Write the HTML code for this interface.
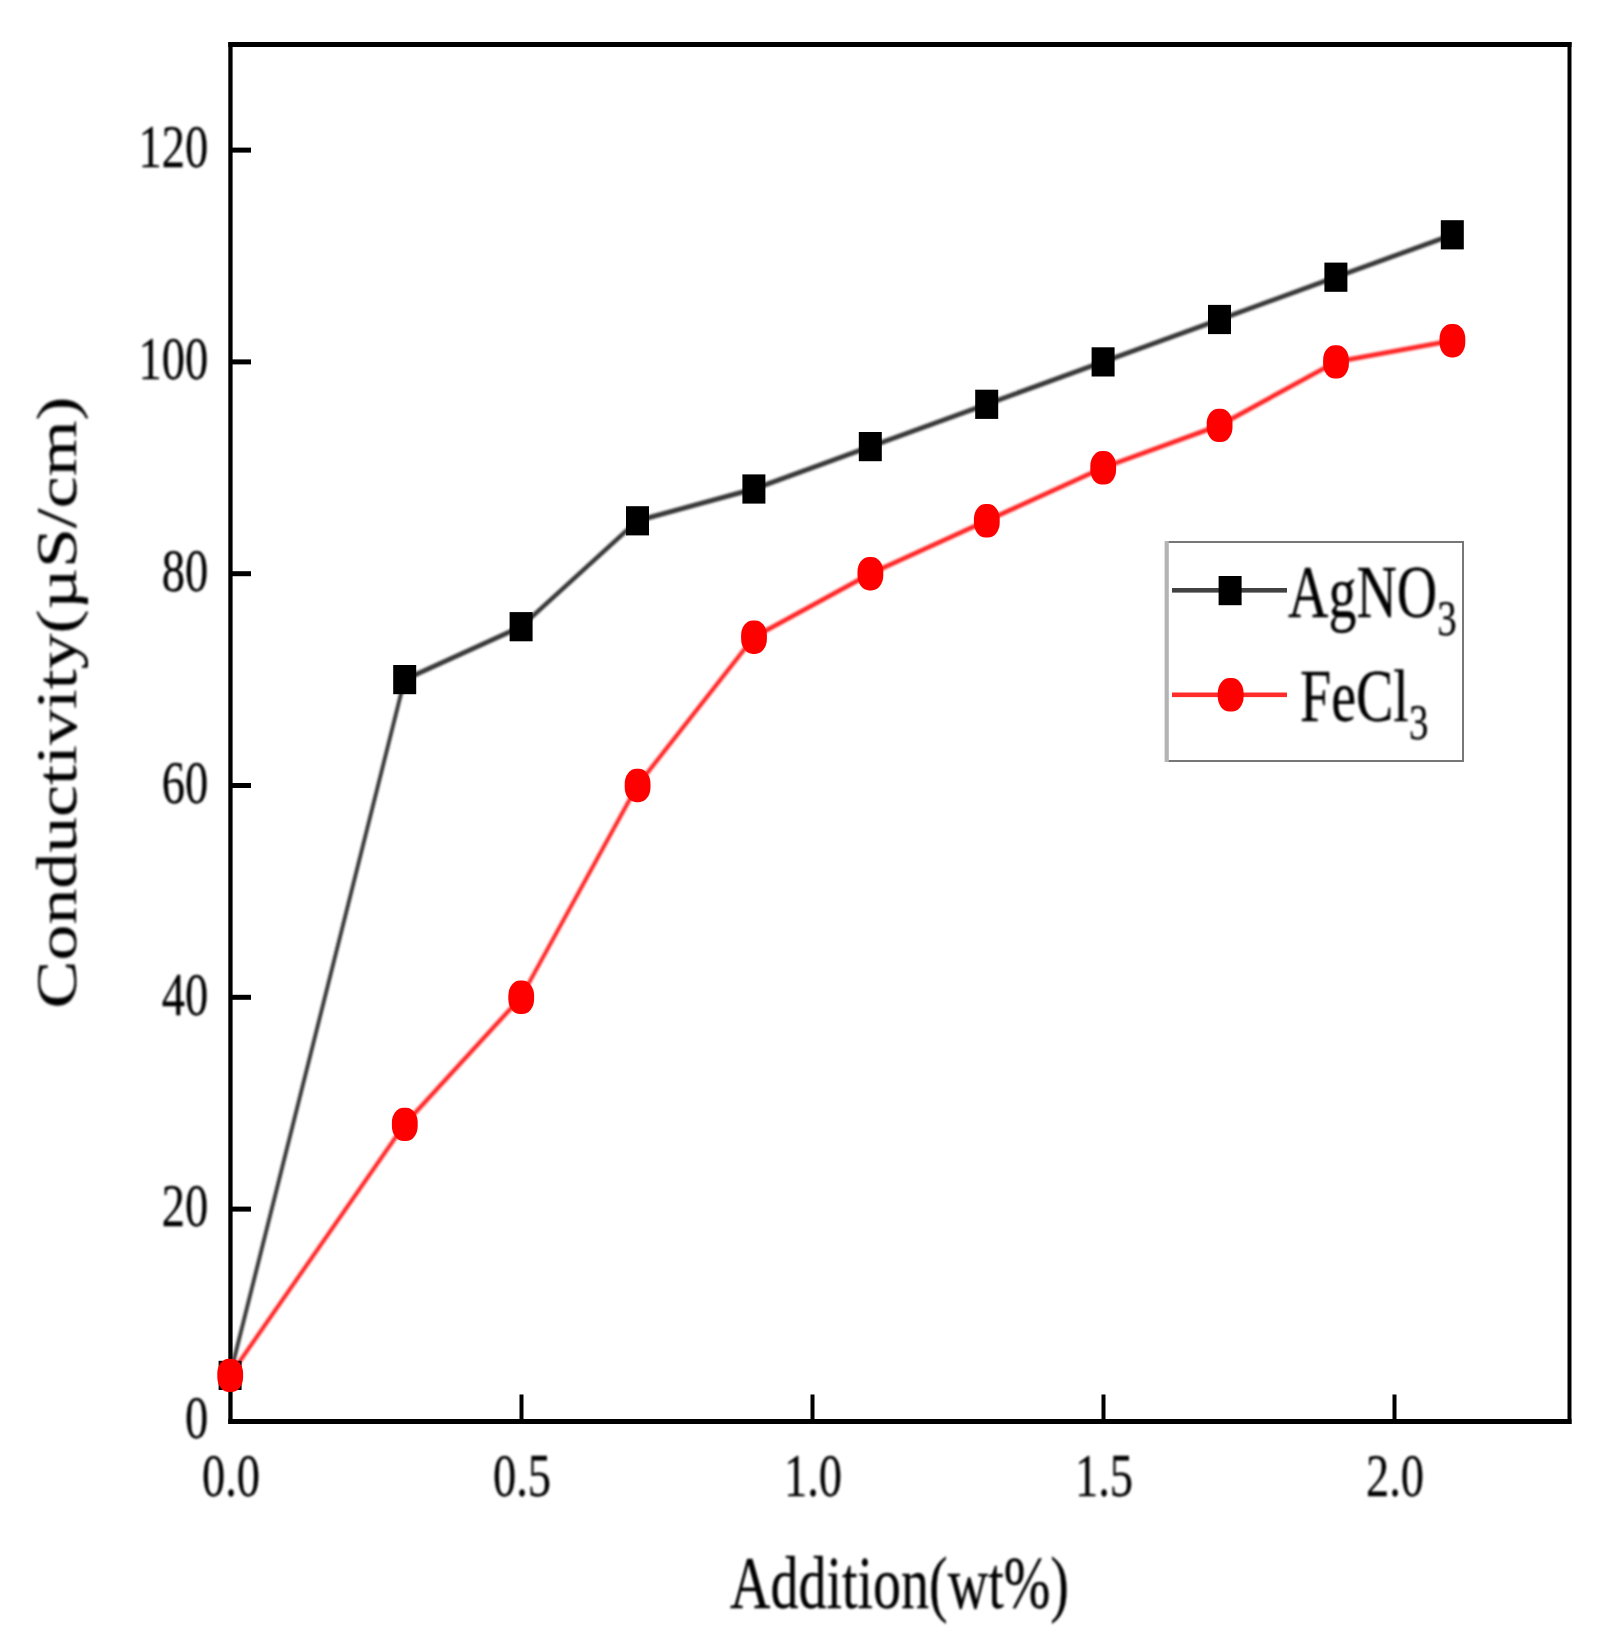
<!DOCTYPE html>
<html lang="en">
<head>
<meta charset="utf-8">
<title>Conductivity vs Addition</title>
<style>
html,body{margin:0;padding:0;background:#fff;}
body{width:1607px;height:1646px;overflow:hidden;}
svg{display:block;}
text{font-family:"Liberation Serif","Times New Roman",serif;fill:#000;stroke:#000;stroke-width:0.2px;}
</style>
</head>
<body>
<svg width="1607" height="1646" viewBox="0 0 1607 1646">
<rect x="0" y="0" width="1607" height="1646" fill="#ffffff"/>
<defs><filter id="soft" x="-5%" y="-5%" width="110%" height="110%"><feGaussianBlur stdDeviation="0.8"/></filter><filter id="soft2" x="-5%" y="-5%" width="110%" height="110%"><feGaussianBlur stdDeviation="0.55"/></filter></defs>
<g filter="url(#soft)">
<polyline transform="scale(1,1.3)" fill="none" stroke="#383838" stroke-width="3.8" stroke-linejoin="round" points="230.0,1057.97 404.6,522.77 521.0,482.04 637.4,400.58 753.8,376.14 870.2,343.55 986.6,310.97 1103.0,278.38 1219.4,245.80 1335.8,213.22 1452.2,180.63"/>
<polyline transform="scale(1,1.3)" fill="none" stroke="#ff2828" stroke-width="3.7" stroke-linejoin="round" points="230.0,1057.97 404.6,864.91 521.0,767.15 637.4,604.23 753.8,490.18 870.2,441.31 986.6,400.58 1103.0,359.85 1219.4,327.26 1335.8,278.38 1452.2,262.09"/>
</g>
<g fill="#000">
<rect x="228.3" y="42" width="4.3" height="1382"/>
<rect x="1567.5" y="42" width="4" height="1382"/>
<rect x="228.3" y="42" width="1343.2" height="5"/>
<rect x="228.3" y="1419" width="1343.2" height="5"/>
<rect x="230" y="1206.6" width="21" height="5"/>
<rect x="230" y="994.8" width="21" height="5"/>
<rect x="230" y="783.0" width="21" height="5"/>
<rect x="230" y="571.2" width="21" height="5"/>
<rect x="230" y="359.4" width="21" height="5"/>
<rect x="230" y="147.6" width="21" height="5"/>
<rect x="519.5" y="1394.5" width="4" height="26"/>
<rect x="810.5" y="1394.5" width="4" height="26"/>
<rect x="1101.5" y="1394.5" width="4" height="26"/>
<rect x="1392.5" y="1394.5" width="4" height="26"/>
</g>
<g fill="#000">
<rect x="218.6" y="1360.8" width="23" height="29.2"/>
<rect x="393.2" y="665.0" width="23" height="29.2"/>
<rect x="509.6" y="612.1" width="23" height="29.2"/>
<rect x="626.0" y="506.2" width="23" height="29.2"/>
<rect x="742.4" y="474.4" width="23" height="29.2"/>
<rect x="858.8" y="432.0" width="23" height="29.2"/>
<rect x="975.2" y="389.7" width="23" height="29.2"/>
<rect x="1091.6" y="347.3" width="23" height="29.2"/>
<rect x="1208.0" y="304.9" width="23" height="29.2"/>
<rect x="1324.4" y="262.6" width="23" height="29.2"/>
<rect x="1440.8" y="220.2" width="23" height="29.2"/>
</g>
<g fill="#ff0000">
<rect x="217.3" y="1358.7" width="25.8" height="33.4" rx="11.6" ry="14.8"/>
<rect x="391.9" y="1107.7" width="25.8" height="33.4" rx="11.6" ry="14.8"/>
<rect x="508.3" y="980.6" width="25.8" height="33.4" rx="11.6" ry="14.8"/>
<rect x="624.7" y="768.8" width="25.8" height="33.4" rx="11.6" ry="14.8"/>
<rect x="741.1" y="620.5" width="25.8" height="33.4" rx="11.6" ry="14.8"/>
<rect x="857.5" y="557.0" width="25.8" height="33.4" rx="11.6" ry="14.8"/>
<rect x="973.9" y="504.1" width="25.8" height="33.4" rx="11.6" ry="14.8"/>
<rect x="1090.3" y="451.1" width="25.8" height="33.4" rx="11.6" ry="14.8"/>
<rect x="1206.7" y="408.7" width="25.8" height="33.4" rx="11.6" ry="14.8"/>
<rect x="1323.1" y="345.2" width="25.8" height="33.4" rx="11.6" ry="14.8"/>
<rect x="1439.5" y="324.0" width="25.8" height="33.4" rx="11.6" ry="14.8"/>
</g>
<g filter="url(#soft)">
<text transform="translate(208.3,1438.2) scale(1,1.325)" font-size="46.5" text-anchor="end">0</text>
<text transform="translate(208.3,1226.4) scale(1,1.325)" font-size="46.5" text-anchor="end">20</text>
<text transform="translate(208.3,1014.6) scale(1,1.325)" font-size="46.5" text-anchor="end">40</text>
<text transform="translate(208.3,802.8) scale(1,1.325)" font-size="46.5" text-anchor="end">60</text>
<text transform="translate(208.3,591.0) scale(1,1.325)" font-size="46.5" text-anchor="end">80</text>
<text transform="translate(208.3,379.2) scale(1,1.325)" font-size="46.5" text-anchor="end">100</text>
<text transform="translate(208.3,167.4) scale(1,1.325)" font-size="46.5" text-anchor="end">120</text>
<text transform="translate(231.0,1496) scale(1,1.325)" font-size="46.5" text-anchor="middle">0.0</text>
<text transform="translate(522.0,1496) scale(1,1.325)" font-size="46.5" text-anchor="middle">0.5</text>
<text transform="translate(813.0,1496) scale(1,1.325)" font-size="46.5" text-anchor="middle">1.0</text>
<text transform="translate(1104.0,1496) scale(1,1.325)" font-size="46.5" text-anchor="middle">1.5</text>
<text transform="translate(1395.0,1496) scale(1,1.325)" font-size="46.5" text-anchor="middle">2.0</text>
<text transform="translate(899.5,1608) scale(1,1.320)" font-size="56.0" text-anchor="middle">Addition(wt%)</text>
<text transform="translate(76,702.5) rotate(-90) scale(1.260,1)" font-size="57.0" text-anchor="middle">Conductivity(µS/cm)</text>
</g>
<rect x="1165" y="542" width="298" height="219" fill="#fff"/>
<polyline points="1165,542 1463,542 1463,761 1165,761" fill="none" stroke="#777" stroke-width="2"/>
<rect x="1164.6" y="541" width="4.2" height="221" fill="#b4b4b4"/>
<rect x="1172" y="588" width="115" height="4.6" fill="#424242"/>
<rect x="1218.6" y="576" width="23" height="29.2" fill="#000"/>
<rect x="1172" y="692.5" width="115" height="4.6" fill="#ff2c2c"/>
<rect x="1217.8" y="678.1" width="25.8" height="33.4" rx="11.6" ry="14.8" fill="#ff0000"/>
<g filter="url(#soft)">
<text transform="translate(1288,617) scale(1,1.320)" font-size="56.0">AgNO<tspan dy="14" font-size="39">3</tspan></text>
<text transform="translate(1300,721) scale(1,1.320)" font-size="56.0">FeCl<tspan dy="14" font-size="39">3</tspan></text>
</g>
</svg>
</body>
</html>
